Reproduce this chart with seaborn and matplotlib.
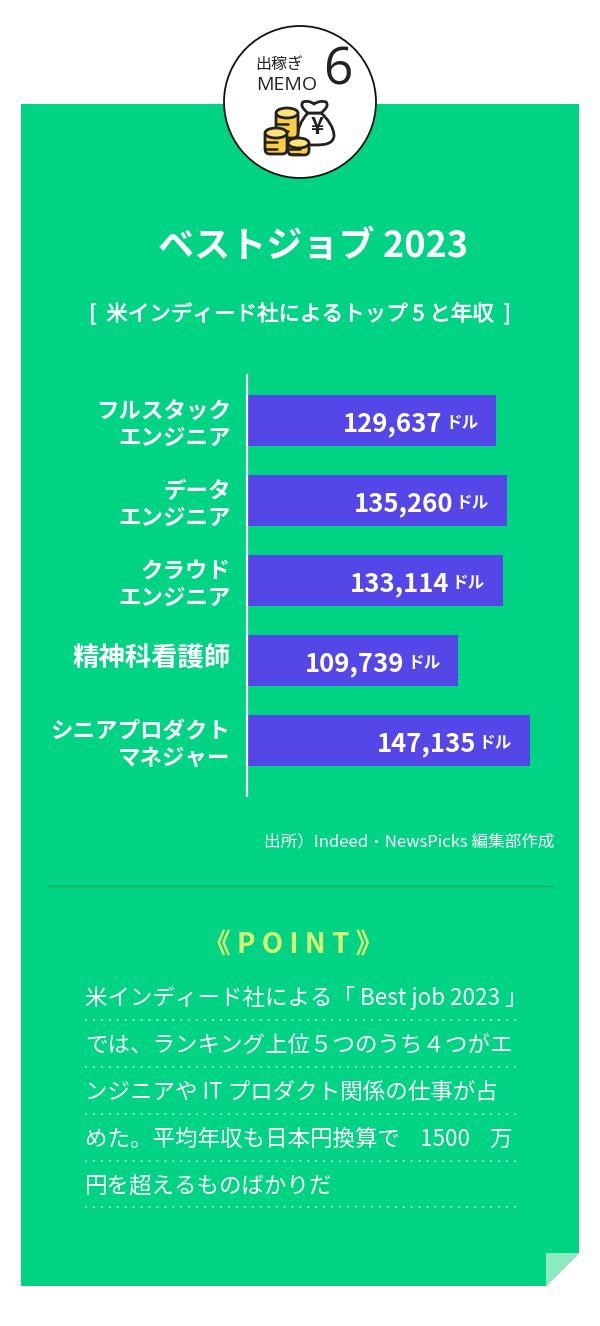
import matplotlib
matplotlib.use("Agg")
import matplotlib.pyplot as plt
import matplotlib.patches as mpatches
import matplotlib.patheffects as pe
from matplotlib.path import Path
from matplotlib.transforms import ScaledTranslation
import seaborn as sns
import pandas as pd

W, H = 600, 1326
GREEN = "#00D383"
BAR = "#5546E8"
YELLOW = "#D8FB72"
FOLD = "#8CEAC2"
INK = "#222222"

# chart data
jobs = ["フルスタック\nエンジニア", "データ\nエンジニア", "クラウド\nエンジニア", "精神科看護師", "シニアプロダクト\nマネジャー"]
salaries = [129637, 135260, 133114, 109739, 147135]

point_lines = [
    "米インディード社による「 Best job 2023 」",
    "では、ランキング上位５つのうち４つがエ",
    "ンジニアや IT プロダクト関係の仕事が占",
    "めた。平均年収も日本円換算で    1500    万",
    "円を超えるものばかりだ",
]
point_rows = [998, 1045, 1092, 1139, 1186]
rule_rows = [1020, 1067, 1114, 1161, 1207]


def coin_stack(ax, x, y, w, h, bands):
    """Yellow stack of coins, drawn in pixel coordinates."""
    body = mpatches.FancyBboxPatch((x, y + 3), w, h - 6, boxstyle="round,pad=0,rounding_size=5",
                                   fc="#F9CE45", ec=INK, lw=2.0, zorder=6)
    ax.add_patch(body)
    top = mpatches.Ellipse((x + w / 2, y + 5), w, 10, fc="#FFE27A", ec=INK, lw=2.0, zorder=7)
    ax.add_patch(top)
    for b in bands:
        ax.plot([x + 1, x + w * 0.55], [y + b, y + b], color=INK, lw=1.8, zorder=7)


def money_bag(ax):
    c4 = Path.CURVE4
    codes = [Path.MOVETO, c4, c4, c4, c4, c4, c4, c4, c4, c4, c4, c4, c4, Path.CLOSEPOLY]
    verts = [(308, 113), (301, 120), (297, 130), (298, 137), (299, 143), (305, 145), (314, 145),
             (325, 145), (333, 144), (334, 136), (334, 128), (328, 119), (321, 113), (308, 113)]
    ax.add_patch(mpatches.PathPatch(Path(verts, codes), fc="white", ec=INK, lw=2.0, zorder=5))
    c3 = Path.CURVE3
    codes = [Path.MOVETO, c3, c3, c3, c3, c3, c3, c3, c3, Path.CLOSEPOLY]
    verts = [(308, 113), (299, 106), (303, 102), (309, 100), (314, 104), (320, 100), (326, 102),
             (330, 106), (321, 113), (308, 113)]
    ax.add_patch(mpatches.PathPatch(Path(verts, codes), fc="white", ec=INK, lw=2.0, zorder=5))
    ax.text(317, 128, "¥", fontsize=16, fontweight="bold", color=INK, ha="center", va="center", zorder=6)


sns.set_theme(style="white")
plt.rcParams["font.family"] = ["Noto Sans CJK JP", "DejaVu Sans"]

fig = plt.figure(figsize=(W / 100, H / 100), dpi=100, facecolor="white")

# whole-figure layer in pixel coordinates for the card and its decoration
bg = fig.add_axes([0, 0, 1, 1], zorder=0)
bg.set_xlim(0, W)
bg.set_ylim(H, 0)
bg.axis("off")

bg.add_patch(mpatches.Polygon([(21, 104), (579, 104), (579, 1253), (546, 1286), (21, 1286)], fc=GREEN, ec="none"))
bg.add_patch(mpatches.Polygon([(546, 1253), (579, 1253), (546, 1286)], fc=FOLD, ec="none"))
bg.add_patch(mpatches.Circle((300, 102), 76, fc="white", ec="#111111", lw=1.3, zorder=3))

bg.text(279, 64, "出稼ぎ", fontsize=11.5, color=INK, ha="center", va="center", zorder=6)
bg.text(287, 85, "MEMO", fontsize=14, family="Open Sans", color=INK, ha="center", va="center", zorder=6)
bg.text(338, 71, "6", fontsize=37, family="Open Sans", color=INK, ha="center", va="center", zorder=6)
money_bag(bg)
coin_stack(bg, 276, 108, 22, 33, [16, 23])
coin_stack(bg, 265, 128, 22, 29, [14, 21])
coin_stack(bg, 288, 138, 21, 20, [11, 16])

bg.text(313, 246, "ベストジョブ 2023", fontsize=26, fontweight="bold", color="white", ha="center", va="center")
sub = bg.text(300, 314, "[  米インディード社によるトップ 5 と年収  ]", fontsize=15.5, color="white", ha="center", va="center")
sub.set_path_effects([pe.withStroke(linewidth=0.5, foreground="white")])
bg.text(554, 842, "出所）Indeed・NewsPicks 編集部作成", fontsize=12, color="white", ha="right", va="center")
bg.plot([47, 552], [886, 886], color="#2FA35E", lw=0.9)
bg.text(293, 945, "《 P O I N T 》", fontsize=20, fontweight="bold", color=YELLOW, ha="center", va="center")

for line, row in zip(point_lines, point_rows):
    bg.text(85, row, line, fontsize=16.2, color="white", ha="left", va="center")
for row in rule_rows:
    bg.plot([85, 516], [row, row], color="#A8EFCF", lw=1.3, ls=(0, (1, 3.4)))

# bar chart: axes box spans the vertical white axis line
left, right, top, bottom = 248, 578, 375, 796
ax = fig.add_axes([left / W, 1 - bottom / H, (right - left) / W, (bottom - top) / H], zorder=2)
ax.patch.set_alpha(0)
df = pd.DataFrame({"job": jobs, "salary": salaries})
sns.barplot(data=df, x="salary", y="job", color=BAR, saturation=1, width=0.64, linewidth=0, ax=ax)
ax.set_xlim(0, 172200)
ax.set_ylim(4.5 + 15.5 / 80, -0.5 - 5.5 / 80)
ax.set_xlabel("")
ax.set_ylabel("")
ax.set_xticks([])
sns.despine(ax=ax, top=True, right=True, bottom=True)
ax.spines["left"].set_color("white")
ax.spines["left"].set_linewidth(1.6)
ax.spines["left"].set_position(("outward", 0.5))
ax.tick_params(axis="y", length=0, pad=12)
for lab in ax.get_yticklabels():
    lab.set_fontweight("bold")
    lab.set_color("white")
    lab.set_linespacing(1.22)
    # the kanji-only label runs larger and a little higher in the original
    if "\n" in lab.get_text():
        lab.set_fontsize(16.2)
    else:
        lab.set_fontsize(19)
        lab.set_transform(lab.get_transform() + ScaledTranslation(0, 3 / 72, fig.dpi_scale_trans))

for i, v in enumerate(salaries):
    ax.annotate(f"{v:,}", (v, i), xytext=(-39, -2.5), textcoords="offset points", fontsize=18.5,
                fontweight="bold", color="white", ha="right", va="center")
    ax.annotate("ドル", (v, i), xytext=(-13, -1.5), textcoords="offset points", fontsize=12,
                fontweight="bold", color="white", ha="right", va="center")

fig.savefig("out.png", dpi=100)
